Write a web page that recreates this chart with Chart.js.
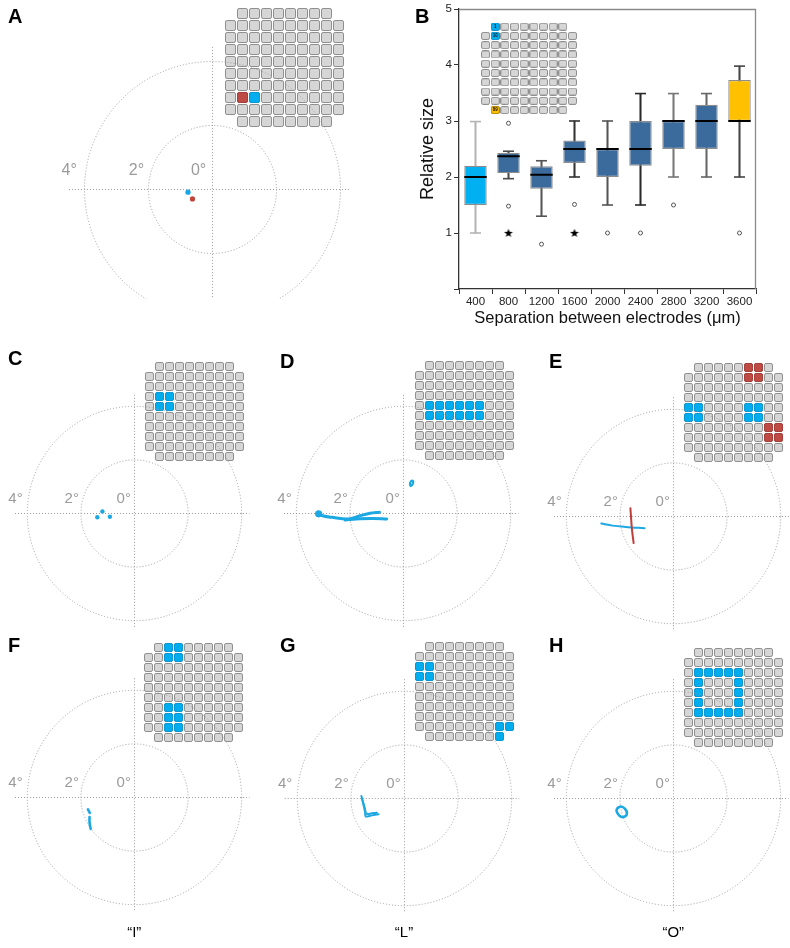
<!DOCTYPE html>
<html><head><meta charset="utf-8">
<script src="https://cdn.jsdelivr.net/npm/chart.js@4.4.1/dist/chart.umd.min.js"></script>
<style>
html,body{margin:0;padding:0;background:#fff;}
#root{position:relative;width:790px;height:948px;overflow:hidden;font-family:Arial,"Liberation Sans",Helvetica,sans-serif;}
#root canvas{position:absolute;}
.plabel{position:absolute;font-weight:bold;font-size:20px;line-height:1;color:#000;z-index:5;}
.deg{position:absolute;color:#9b9b9b;line-height:1;white-space:nowrap;transform:translate(0,-50%);z-index:5;}
.cap{position:absolute;font-size:15px;line-height:1;transform:translate(-50%,-50%);color:#000;z-index:5;}
.num{position:absolute;font-size:4.5px;font-weight:bold;line-height:1;transform:translate(-50%,-50%);color:#111;z-index:5;}
</style></head>
<body><div id="root"></div>
<script>
// ---------------- Panel B data ----------------
const sepCategories = ['400','800','1200','1600','2000','2400','2800','3200','3600'];
const boxQ1        = [1.50, 2.07, 1.79, 2.25, 2.00, 2.20, 2.50, 2.50, 3.00];
const boxQ3        = [2.20, 2.43, 2.19, 2.65, 2.50, 3.00, 3.00, 3.29, 3.73];
const boxMedian    = [2.00, 2.37, 2.04, 2.50, 2.50, 2.50, 3.00, 3.00, 3.00];
const whiskerLow   = [1.00, 1.97, 1.30, 2.00, 1.50, 1.50, 2.00, 2.00, 2.00];
const whiskerHigh  = [2.99, 2.46, 2.29, 3.00, 3.00, 3.49, 3.49, 3.49, 3.98];
const outlierCats  = ['800','800','1200','1600','2000','2400','2800','3600'];
const outlierVals  = [2.96, 1.48, 0.80, 1.51, 1.00, 1.00, 1.50, 1.00];
const starCats     = ['800','1600'];
const starVals     = [1.00, 1.00];
const yTickValues  = [0, 1, 2, 3, 4, 5];
const boxColors    = ['#00b0f0','#3b6a9d','#3b6a9d','#3b6a9d','#3b6a9d','#3b6a9d','#3b6a9d','#3b6a9d','#ffc000'];
const whiskerColors= ['#b4b4b4','#4a4a4a','#555555','#333333','#555555','#2a2a2a','#777777','#666666','#444444'];

// ---------------- Electrode arrays ----------------
const electrodeLayout = [
  '.########.',
  '##########',
  '##########',
  '##########',
  '##########',
  '##########',
  '##########',
  '##########',
  '##########',
  '.########.'
];
const activeA = {red:[[7,1]], blue:[[7,2]]};
const activeB = {blue:[[0,1],[1,1]], yellow:[[9,1]]};
const numbersB = [['1',0,1],['10',1,1],['89',9,1]];
const activeC = {blue:[[3,1],[3,2],[4,1],[4,2]]};
const activeD = {blue:[[4,1],[4,2],[4,3],[4,4],[4,5],[4,6],[5,1],[5,2],[5,3],[5,4],[5,5],[5,6]]};
const activeE = {red:[[0,6],[0,7],[1,6],[1,7],[6,8],[6,9],[7,8],[7,9]],
                 blue:[[4,0],[4,1],[5,0],[5,1],[4,6],[4,7],[5,6],[5,7]]};
const activeF = {blue:[[0,2],[0,3],[1,2],[1,3],[6,2],[6,3],[7,2],[7,3],[8,2],[8,3]]};
const activeG = {blue:[[2,0],[2,1],[3,0],[3,1],[8,8],[8,9],[9,8]]};
const activeH = {blue:[[2,1],[2,2],[2,3],[2,4],[2,5],[3,1],[3,5],[4,1],[4,5],[5,1],[5,5],[6,1],[6,2],[6,3],[6,4],[6,5]]};

// ---------------- Visual field data (degrees) ----------------
const ringDegrees = [2, 4];
const degreeLabelText = ['4°','2°','0°'];
const degreeLabelLeft = [-4.70, -2.60, -0.66];
const dotsA_blue = [[-0.75,-0.10]];
const dotsA_red  = [[-0.61,-0.31]];
const dotsC      = [[-1.19,0.07],[-1.38,-0.15],[-0.91,-0.13]];
const startD     = [[-3.16,-0.02]];
const traceD1    = [[-3.16,-0.02],[-2.98,-0.10],[-2.67,-0.15],[-2.05,-0.21],[-1.61,-0.09],[-1.24,0.00],[-0.89,0.04]];
const traceD2    = [[-2.17,-0.25],[-1.61,-0.20],[-1.12,-0.19],[-0.62,-0.21]];
const loopD      = [[0.27,1.02],[0.34,1.07],[0.37,1.17],[0.33,1.22],[0.27,1.17],[0.25,1.07],[0.28,1.02]];
const traceE_blue= [[-2.69,-0.29],[-2.27,-0.37],[-1.77,-0.42],[-1.07,-0.47]];
const traceE_red = [[-1.60,0.28],[-1.57,-0.16],[-1.54,-0.54],[-1.48,-1.02]];
const traceF1    = [[-1.73,-0.47],[-1.66,-0.60]];
const traceF2    = [[-1.67,-0.76],[-1.67,-0.95],[-1.63,-1.20]];
const traceG1    = [[-1.59,0.06],[-1.51,-0.27],[-1.45,-0.55],[-1.43,-0.70],[-1.20,-0.66],[-0.95,-0.62]];
const traceG2    = [[-1.57,-0.02],[-1.46,-0.40],[-1.40,-0.60],[-1.20,-0.58],[-1.01,-0.56]];
const traceH     = [[-2.08,-0.38],[-1.95,-0.33],[-1.80,-0.42],[-1.73,-0.58],[-1.80,-0.70],[-1.95,-0.71],[-2.07,-0.60],[-2.12,-0.47],[-2.06,-0.37]];

const BLUE = '#1ca8e3', RED = '#bf3f3a';
const root = document.getElementById('root');

function mkCanvas(L,T,W,H,z){
  const c=document.createElement('canvas');
  c.width=W; c.height=H;
  c.style.left=L+'px'; c.style.top=T+'px'; c.style.width=W+'px'; c.style.height=H+'px'; c.style.zIndex=z;
  root.appendChild(c); return c;
}
function addDiv(cls,text,left,top,extra){
  const d=document.createElement('div'); d.className=cls; d.textContent=text;
  d.style.left=left+'px'; d.style.top=top+'px';
  if(extra) Object.assign(d.style,extra);
  root.appendChild(d); return d;
}
const baseOpts = {responsive:false, animation:false, events:[], layout:{padding:0, autoPadding:false},
  plugins:{legend:{display:false}, tooltip:{enabled:false}}};

// rounded-rect electrode marker image
function cellImg(w,h,fill,stroke){
  const c=document.createElement('canvas'); c.width=w; c.height=h;
  const x=c.getContext('2d'); const r=1.6;
  x.beginPath();
  x.moveTo(0.5+r,0.5); x.lineTo(w-0.5-r,0.5); x.arcTo(w-0.5,0.5,w-0.5,0.5+r,r);
  x.lineTo(w-0.5,h-0.5-r); x.arcTo(w-0.5,h-0.5,w-0.5-r,h-0.5,r);
  x.lineTo(0.5+r,h-0.5); x.arcTo(0.5,h-0.5,0.5,h-0.5-r,r);
  x.lineTo(0.5,0.5+r); x.arcTo(0.5,0.5,0.5+r,0.5,r); x.closePath();
  x.fillStyle=fill; x.fill(); x.strokeStyle=stroke; x.lineWidth=1; x.stroke();
  return c;
}
const cellColors = {gray:['#d6d6d6','#8e8e8e'], blue:['#00adef','#0a98d4'], red:['#bf4b45','#a53e39'], yellow:['#ffc000','#b88c00']};

// rect = [left, top, pitchX, pitchY]; integer pitch keeps cells pixel-aligned
function gridChart(rect, active, numbers, z, cellW, cellH){
  let [gx,gy,px,py]=rect;
  const cw=cellW||Math.round(px-1), ch=cellH||Math.round(py-1);
  const L=Math.floor(gx)-2, T=Math.floor(gy)-2, W=Math.ceil(px*10)+6, H=Math.ceil(py*10)+6;
  const xmin=-0.5-(gx-L)/px, ymin=-0.5-(gy-T)/py;
  const cells=[];
  electrodeLayout.forEach((row,r)=>{ for(let c=0;c<row.length;c++){ if(row[c]==='#') cells.push({x:c,y:r}); } });
  const datasets=[];
  Object.keys(active).forEach(col=>{
    datasets.push({data:active[col].map(([r,c])=>({x:c,y:r})), pointStyle:cellImg(cw,ch,cellColors[col][0],cellColors[col][1]), pointRadius:5, showLine:false});
  });
  datasets.push({data:cells, pointStyle:cellImg(cw,ch,cellColors.gray[0],cellColors.gray[1]), pointRadius:5, showLine:false});
  const cv=mkCanvas(L,T,W,H,z||1);
  new Chart(cv,{type:'scatter', data:{datasets}, options:Object.assign({}, baseOpts, {
    scales:{x:{type:'linear',display:false,min:xmin,max:xmin+W/px},
            y:{type:'linear',display:false,reverse:true,min:ymin,max:ymin+H/py}}})});
  if(numbers){ numbers.forEach(([t,r,c])=>addDiv('num',t,gx+(c+0.5)*px,gy+(r+0.5)*py)); }
}

// dotted rings and crosshair for visual field plots
const polarGuides = {
  id:'polarGuides',
  beforeDatasetsDraw(chart){
    const o=chart.options.plugins.polarGuides; if(!o) return;
    const sx=chart.scales.x, sy=chart.scales.y, ctx=chart.ctx;
    const cx=Math.round(sx.getPixelForValue(0))+0.5, cy=Math.round(sy.getPixelForValue(0))+0.5;
    ctx.save(); ctx.strokeStyle='#9c9c9c'; ctx.lineWidth=1; ctx.setLineDash([1,2]);
    o.rings.forEach(r=>{ const rp=sx.getPixelForValue(r)-sx.getPixelForValue(0);
      ctx.beginPath(); ctx.arc(cx,cy,rp,0,Math.PI*2); ctx.stroke(); });
    ctx.beginPath(); ctx.moveTo(sx.getPixelForValue(o.xr[0]),cy); ctx.lineTo(sx.getPixelForValue(o.xr[1]),cy); ctx.stroke();
    ctx.beginPath(); ctx.moveTo(cx,sy.getPixelForValue(o.yr[1])); ctx.lineTo(cx,sy.getPixelForValue(o.yr[0])); ctx.stroke();
    ctx.restore();
  }
};
const toXY = a => a.map(([x,y])=>({x,y}));
const stroke = (a,color,w)=>({data:toXY(a), showLine:true, borderColor:color, borderWidth:w, pointRadius:0, tension:0.35, borderCapStyle:'round', borderJoinStyle:'round', fill:false});
const dots = (a,color,r)=>({data:toXY(a), showLine:false, pointRadius:r, pointBackgroundColor:color, pointBorderWidth:0});

function polarChart(p){
  const [L,T,W,H]=p.box;
  const cv=mkCanvas(L,T,W,H,2);
  const opts=Object.assign({}, baseOpts, {
    plugins:{legend:{display:false}, tooltip:{enabled:false}, polarGuides:{rings:ringDegrees, xr:p.xr||[-4.45,4.3], yr:p.yr||[-4.3,4.42]}},
    scales:{x:{type:'linear',display:false,min:(L-p.cx)/p.k,max:(L+W-p.cx)/p.k},
            y:{type:'linear',display:false,min:(p.cy-T-H)/p.k,max:(p.cy-T)/p.k}}});
  new Chart(cv,{type:'scatter', data:{datasets:p.datasets}, options:opts, plugins:[polarGuides]});
  degreeLabelText.forEach((t,i)=>addDiv('deg',t,p.cx+degreeLabelLeft[i]*p.k,p.cy-0.6*p.k,{fontSize:p.fs+'px'}));
  if(p.caption) addDiv('cap',p.caption,p.cx,931);
}

// ---------------- Panel A ----------------
polarChart({box:[0,0,388,299], cx:212, cy:189, k:32, fs:16, xr:[-4.47,4.31], yr:[-3.6,4.44],
  datasets:[dots(dotsA_blue,'#16a6e6',2.6), dots(dotsA_red,'#c0443c',2.6)]});
gridChart([224.5,7.5,12,12], activeA);

// ---------------- Panel C-H ----------------
const K=26.8;
polarChart({box:[0,328,265,312], cx:134.3, cy:513.3, k:K, fs:15, datasets:[dots(dotsC,BLUE,2.2)]});
gridChart([144.5,361.5,10,10], activeC);
polarChart({box:[265,328,265,312], cx:403.3, cy:513.3, k:K, fs:15,
  datasets:[dots(startD,BLUE,3.6), stroke(traceD1,BLUE,3), stroke(traceD2,BLUE,3), stroke(loopD,BLUE,2.2)]});
gridChart([414.5,360.5,10,10], activeD);
polarChart({box:[530,328,260,312], cx:673.3, cy:515.7, k:K, fs:15, xr:[-4.45,4.45],
  datasets:[stroke(traceE_red,RED,2), stroke(traceE_blue,BLUE,2)]});
gridChart([683.5,362.5,10,10], activeE);
polarChart({box:[0,612,265,313], cx:134.3, cy:796.7, k:K, fs:15, caption:'\u201CI\u201D',
  datasets:[stroke(traceF1,BLUE,2.6), stroke(traceF2,BLUE,2.6)]});
gridChart([143.5,642.5,10,10], activeF);
polarChart({box:[265,612,265,313], cx:404, cy:797.7, k:K, fs:15, caption:'\u201CL\u201D',
  datasets:[stroke(traceG1,BLUE,2), stroke(traceG2,BLUE,2)]});
gridChart([414.5,641.5,10,10], activeG);
polarChart({box:[530,612,260,313], cx:673.3, cy:797.7, k:K, fs:15, caption:'\u201CO\u201D',
  datasets:[stroke(traceH,BLUE,2.6)]});
gridChart([683.5,647.5,10,10], activeH);

// ---------------- Panel B (box plot) ----------------
function starImg(){
  const c=document.createElement('canvas'); c.width=10; c.height=10; const x=c.getContext('2d');
  x.beginPath();
  for(let i=0;i<10;i++){ const a=-Math.PI/2+i*Math.PI/5; const r=i%2?1.9:4.6; x.lineTo(5+r*Math.cos(a),5.4+r*Math.sin(a)); }
  x.closePath(); x.fillStyle='#000'; x.fill(); return c;
}
const frame = {id:'frame', afterDraw(chart){ const a=chart.chartArea, ctx=chart.ctx;
  ctx.save(); ctx.strokeStyle='#8a8a8a'; ctx.lineWidth=1.3;
  ctx.beginPath(); ctx.moveTo(a.left,a.top+0.5); ctx.lineTo(a.right-0.5,a.top+0.5); ctx.lineTo(a.right-0.5,a.bottom); ctx.stroke(); ctx.restore(); }};
const cvB = mkCanvas(390,0,390,335,1);
new Chart(cvB,{type:'bar',
  data:{labels:sepCategories, datasets:[
    {type:'line', data:boxMedian, showLine:false, pointStyle:'line', pointRadius:11.2, pointBorderWidth:2, pointBorderColor:'#000', order:0},
    {type:'line', data:whiskerHigh, showLine:false, pointStyle:'line', pointRadius:5.5, pointBorderWidth:1.6, pointBorderColor:whiskerColors, order:0},
    {type:'line', data:whiskerLow, showLine:false, pointStyle:'line', pointRadius:5.5, pointBorderWidth:1.6, pointBorderColor:whiskerColors, order:0},
    {type:'line', data:outlierCats.map((c,i)=>({x:c,y:outlierVals[i]})), showLine:false, pointStyle:'circle', pointRadius:2, pointBackgroundColor:'#fff', pointBorderColor:'#555', pointBorderWidth:1, order:0},
    {type:'line', data:starCats.map((c,i)=>({x:c,y:starVals[i]})), showLine:false, pointStyle:starImg(), pointRadius:4, order:0},
    {type:'bar', data:boxQ1.map((q,i)=>[q,boxQ3[i]]), backgroundColor:boxColors, borderColor:'#8c8c8c', borderWidth:1.2, borderSkipped:false, barPercentage:0.68, categoryPercentage:1, grouped:false, order:1},
    {type:'bar', data:whiskerLow.map((l,i)=>[l,whiskerHigh[i]]), backgroundColor:whiskerColors, barThickness:1.4, grouped:false, order:2}
  ]},
  options:Object.assign({}, baseOpts, {
    layout:{padding:{top:9,right:24,left:0,bottom:0}, autoPadding:false},
    scales:{
      x:{type:'category', offset:true,
         grid:{display:true, drawOnChartArea:false, drawTicks:true, tickLength:5, color:'#333', offset:true},
         border:{display:true, color:'#333', width:1.3},
         ticks:{font:{size:11.5, family:'Arial, "Liberation Sans", sans-serif'}, color:'#222', padding:1, maxRotation:0, autoSkip:false},
         title:{display:true, text:'Separation between electrodes (\u03BCm)', font:{size:16.5, family:'Arial, "Liberation Sans", sans-serif'}, color:'#111', padding:{top:0,bottom:7}},
         afterFit(s){ s.height=46; }},
      y:{type:'linear', min:0, max:5,
         afterBuildTicks(s){ s.ticks = yTickValues.map(v=>({value:v})); },
         grid:{display:true, drawOnChartArea:false, drawTicks:true, tickLength:5, color:'#333'},
         border:{display:true, color:'#333', width:1.3},
         ticks:{callback:v=>v===0?'':String(v), font:{size:11.5, family:'Arial, "Liberation Sans", sans-serif'}, color:'#222', padding:2},
         title:{display:true, text:'Relative size', font:{size:18, family:'Arial, "Liberation Sans", sans-serif'}, color:'#111', padding:{top:27.5,bottom:0}},
         afterFit(s){ s.width=69; }}
    }}),
  plugins:[frame]});
gridChart([480.7,22,9.66,9.27], activeB, numbersB, 3, 9, 8);

// ---------------- Panel letters ----------------
[['A',8,5.7],['B',415,6.4],['C',8,347.6],['D',280,350.5],['E',549,350.5],['F',8,634.5],['G',280,635.3],['H',549,634.5]]
  .forEach(([t,l,tp])=>addDiv('plabel',t,l,tp));
</script>
</body></html>
